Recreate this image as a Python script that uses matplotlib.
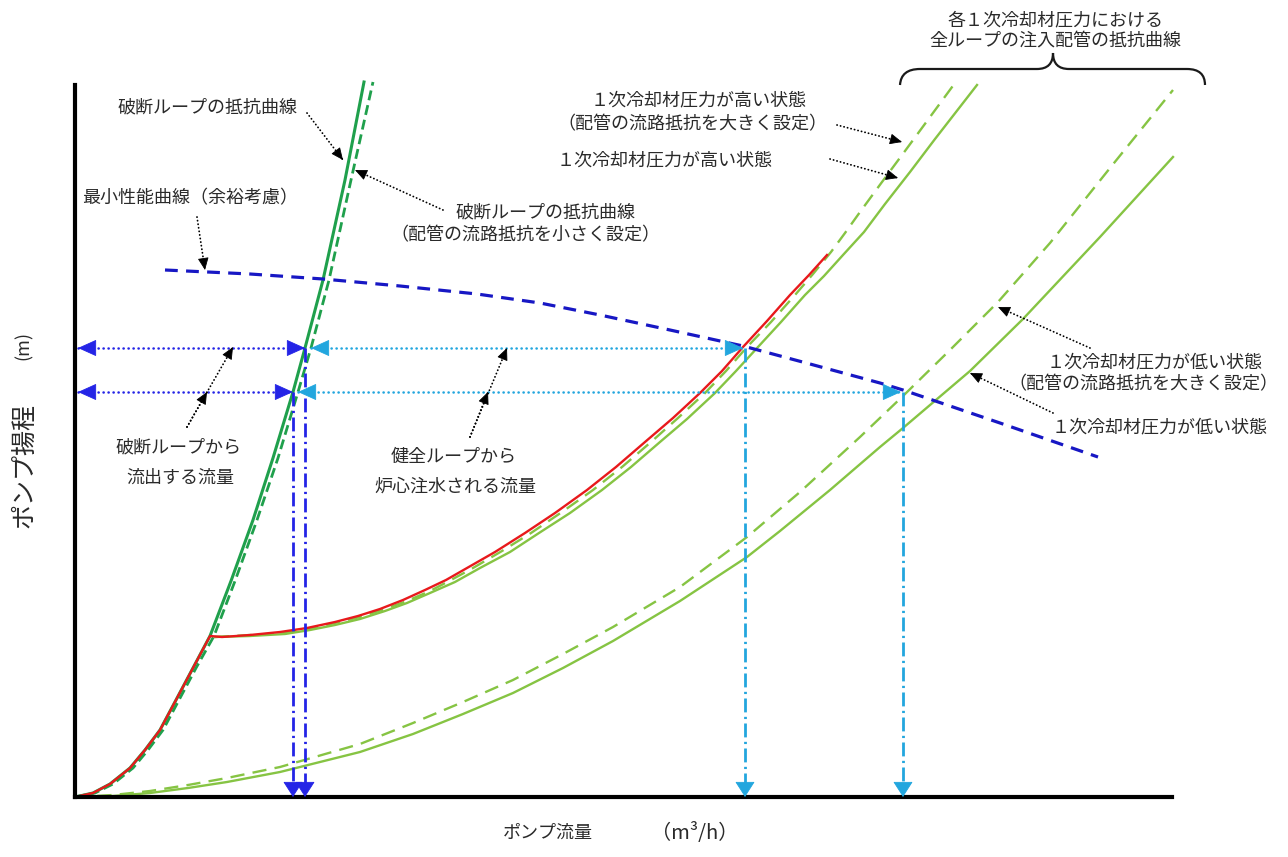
import matplotlib
matplotlib.use('Agg')
import matplotlib.pyplot as plt
from matplotlib.path import Path
from matplotlib.patches import PathPatch

plt.rcParams['font.family'] = ['Noto Sans CJK JP', 'DejaVu Sans']

# resistance curve of the broken loop (solid) and with low piping resistance (dashed)
brk_y = [0, 4, 13, 29, 47, 67, 97, 129, 161, 216, 277, 339, 405, 449, 517, 617, 715]
brk_x = [0, 18, 35, 55, 70, 85, 101, 118, 135, 156, 178, 198, 218, 230, 248, 270, 289]
brk_low_x = [0, 20, 38, 58, 73, 88, 104, 121, 139, 160, 182, 203, 223, 236, 254, 276, 298]

# combined curve (red): broken loop up to the kink, then the intact loops
red_x = [0, 18, 35, 55, 70, 85, 101, 118, 135, 147, 175, 205, 232, 260, 283, 305,
         328, 350, 371, 392, 420, 450, 480, 512, 541, 570, 598, 625, 647, 668,
         692, 715, 734, 752]
red_y = [0, 4, 13, 29, 47, 67, 97, 129, 161, 160, 162, 165, 169, 175, 181, 188,
         197, 207, 217, 229, 245, 264, 284, 307, 330, 355, 379, 404, 426, 450,
         476, 502, 522, 542]

# injection piping, high RCS pressure (solid / dashed = larger resistance)
hi_x = [140, 175, 210, 235, 260, 285, 310, 332, 355, 380, 405, 435, 464, 495, 527,
        556, 585, 612, 640, 661, 683, 706, 730, 749, 768, 789, 810, 835, 860, 881, 902]
hi_y = [160, 161, 163, 167, 172, 178, 186, 194, 204, 215, 229, 245, 264, 284, 307,
        330, 355, 378, 404, 426, 450, 475, 502, 521, 542, 565, 593, 625, 658, 685, 712]
hi_d_x = [140, 175, 210, 235, 260, 285, 310, 332, 355, 376, 398, 427, 456, 487, 518,
          547, 576, 603, 630, 651, 672, 696, 720, 738, 756, 770, 785, 807, 830, 855, 880]
hi_d_y = [160, 162, 164, 168, 174, 180, 188, 196, 206, 217, 229, 246, 264, 285, 307,
          330, 355, 379, 404, 426, 450, 475, 502, 523, 545, 564, 585, 615, 646, 680, 714]

# injection piping, low RCS pressure
lo_x = [0, 38, 75, 113, 152, 205, 285, 338, 388, 438, 488, 538, 605, 672, 705,
        755, 805, 828, 895, 948, 1025, 1098]
lo_y = [0, 1, 4, 9, 15, 25, 45, 63, 83, 104, 129, 156, 196, 240, 266,
        307, 350, 369, 426, 478, 560, 640]
lo_d_x = [0, 38, 75, 113, 152, 205, 285, 338, 388, 438, 488, 538, 605, 672, 725,
          785, 828, 875, 923, 975, 1035, 1098]
lo_d_y = [0, 2, 6, 12, 19, 30, 53, 74, 95, 117, 143, 170, 210, 260, 305,
          360, 401, 447, 495, 554, 629, 707]

# minimum pump performance curve (with margin)
perf_x = [90, 175, 248, 325, 402, 465, 525, 595, 668, 735, 805, 828, 925, 1023]
perf_y = [527, 523, 518, 511, 503, 494, 482, 467, 451, 433, 414, 407, 374, 340]

# operating points: high / low RCS pressure
op_head = [449, 405]
op_brk = [230, 218]
op_brk_low = [236, 223]
op_inj = [670, 828]

DKGREEN = '#1fa04c'
LTGREEN = '#86c443'
RED = '#e8191c'
NAVY = '#1717c4'
BLUE = '#2424e6'
CYAN = '#22a6de'
TXT = '#2a2a2a'
DOT = (0, (0.1, 1.9))

fig = plt.figure(figsize=(12.88, 8.57), dpi=100)
ax = fig.add_axes([75 / 1288, 60 / 857, 1097 / 1288, 712 / 857])
ax.set_xlim(0, 1097)
ax.set_ylim(0, 712)
for s in ['top', 'right']:
    ax.spines[s].set_visible(False)
for s in ['left', 'bottom']:
    ax.spines[s].set_linewidth(3)
    ax.spines[s].set_color('black')
ax.set_xticks([])
ax.set_yticks([])


def head(tip, tail, color, hl, hw):
    # solid filled arrow head at tip, pointing away from tail
    dx, dy = tip[0] - tail[0], tip[1] - tail[1]
    n = (dx ** 2 + dy ** 2) ** 0.5
    start = (tip[0] - 3 * dx / n, tip[1] - 3 * dy / n)
    ax.annotate('', xy=tip, xytext=start, annotation_clip=False,
                arrowprops=dict(arrowstyle=f'-|>,head_length={hl},head_width={hw}',
                                color=color, lw=0.6, shrinkA=0, shrinkB=0,
                                mutation_scale=20))


def dotted(p0, p1, color, lw):
    ax.plot([p0[0], p1[0]], [p0[1], p1[1]], color=color, lw=lw, ls=DOT,
            dash_capstyle='round', clip_on=False)


ax.plot(lo_x, lo_y, color=LTGREEN, lw=1.7, clip_on=False)
ax.plot(lo_d_x, lo_d_y, color=LTGREEN, lw=1.7, ls=(0, (6, 3.5)), clip_on=False)
ax.plot(hi_x, hi_y, color=LTGREEN, lw=1.7, clip_on=False)
ax.plot(hi_d_x, hi_d_y, color=LTGREEN, lw=1.7, ls=(0, (6, 3.5)), clip_on=False)
ax.plot(brk_low_x, brk_y, color=DKGREEN, lw=2.0, ls=(0, (3.6, 1.8)), clip_on=False)
ax.plot(brk_x, brk_y, color=DKGREEN, lw=2.2, clip_on=False)
ax.plot(red_x, red_y, color=RED, lw=1.7, clip_on=False)
ax.plot(perf_x, perf_y, color=NAVY, lw=2.3, ls=(0, (4, 2.6)), clip_on=False)

for h, xb, xbl, xi in zip(op_head, op_brk, op_brk_low, op_inj):
    dotted((3, h), (xb, h), BLUE, 1.8)
    head((3, h), (xb, h), BLUE, 0.6, 0.27)
    head((xb, h), (3, h), BLUE, 0.6, 0.27)
    dotted((xbl, h), (xi - 2, h), CYAN, 1.8)
    head((xbl, h), (xi, h), CYAN, 0.6, 0.27)
    head((xi - 2, h), (xbl, h), CYAN, 0.6, 0.27)
    for xv, c in [(xb, BLUE), (xi, CYAN)]:
        ax.plot([xv, xv], [h, 10], color=c, lw=2.0,
                ls=(0, (5, 1.6, 0.8, 1.6)))
        head((xv, 0), (xv, h), c, 0.5, 0.32)

# labels (x, y in data units)
labels = [
    ('破断ループの抵抗曲線', 132, 690),
    ('破断ループの抵抗曲線', 471, 585),
    ('（配管の流路抵抗を小さく設定）', 450, 562),
    ('最小性能曲線（余裕考慮）', 115, 599),
    ('１次冷却材圧力が高い状態', 624, 697),
    ('（配管の流路抵抗を大きく設定）', 617, 673),
    ('１次冷却材圧力が高い状態', 590, 637),
    ('１次冷却材圧力が低い状態', 1080, 435),
    ('（配管の流路抵抗を大きく設定）', 1068, 413),
    ('１次冷却材圧力が低い状態', 1085, 370),
    ('破断ループから', 103, 350),
    ('流出する流量', 105, 319),
    ('健全ループから', 379, 340),
    ('炉心注水される流量', 380, 310),
    ('各１次冷却材圧力における', 980, 777),
    ('全ループの注入配管の抵抗曲線', 980, 756),
]
for t, x, y in labels:
    ax.text(x, y, t, ha='center', va='center', fontsize=13, color=TXT)

# pointer arrows: (tail, head)
pointers = [
    ((232, 684), (268, 637)),
    ((368, 587), (280, 627)),
    ((122, 580), (130, 527)),
    ((762, 672), (827, 655)),
    ((755, 638), (823, 619)),
    ((1015, 449), (923, 490)),
    ((978, 384), (895, 424)),
    ((112, 370), (132, 405)),
    ((112, 370), (158, 450)),
    ((395, 360), (413, 405)),
    ((395, 360), (432, 449)),
]
for tail, tip in pointers:
    dotted(tail, tip, 'black', 1.3)
    head(tip, tail, 'black', 0.38, 0.17)

# curly brace over the injection piping curves
brace = Path(
    [(825, 712), (826, 728), (845, 728), (962, 728), (978, 728), (978, 744),
     (978, 728), (994, 728), (1112, 728), (1130, 728), (1130, 712)],
    [Path.MOVETO, Path.CURVE3, Path.CURVE3, Path.LINETO, Path.CURVE3, Path.CURVE3,
     Path.CURVE3, Path.CURVE3, Path.LINETO, Path.CURVE3, Path.CURVE3])
ax.add_patch(PathPatch(brace, fill=False, lw=1.6, color='#1a1a1a', clip_on=False))

fig.text(548 / 1288, 1 - 833 / 857, 'ポンプ流量', ha='center', va='center',
         fontsize=13, color=TXT)
fig.text(695 / 1288, 1 - 833 / 857, '（m³/h）', ha='center', va='center',
         fontsize=14.5, color=TXT)
fig.text(24 / 1288, 1 - 466 / 857, 'ポンプ揚程', ha='center', va='center',
         fontsize=18, color=TXT, rotation=90)
fig.text(24 / 1288, 1 - 345 / 857, '(m)', ha='center', va='center',
         fontsize=13, color=TXT, rotation=90)

fig.savefig('out.png', dpi=100)
